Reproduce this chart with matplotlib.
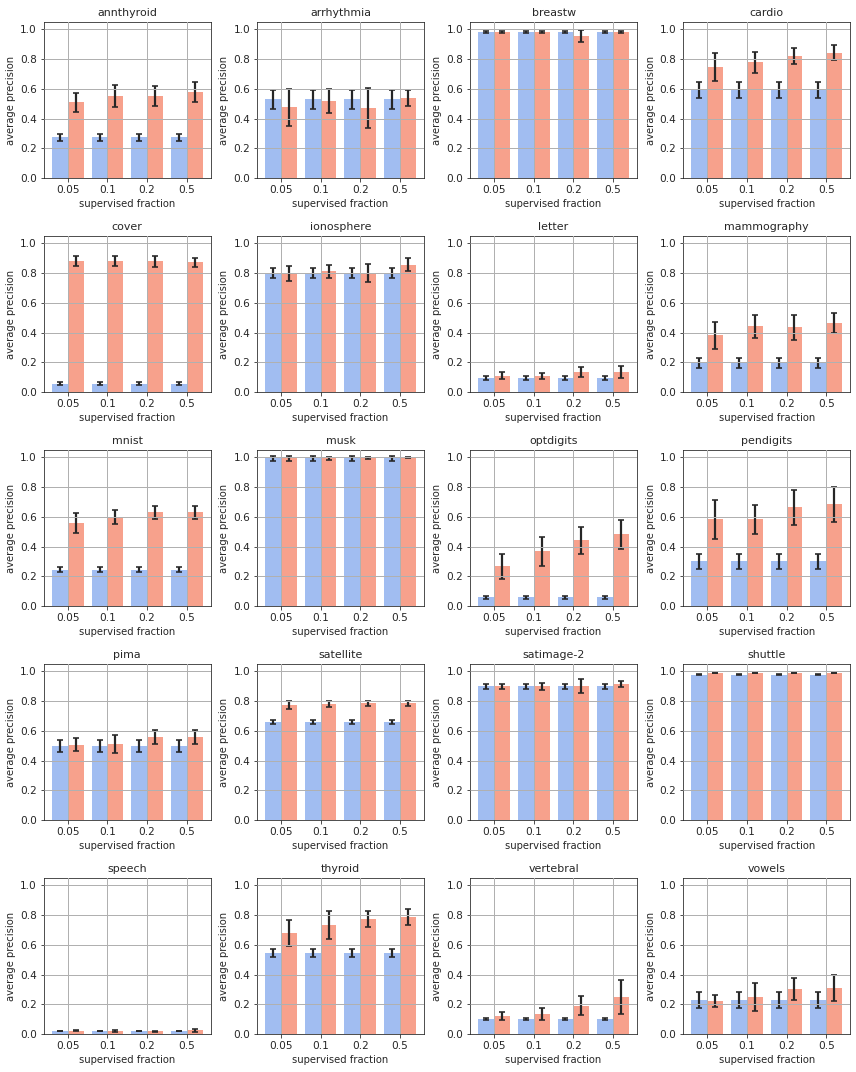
import numpy as np
import matplotlib
matplotlib.use('Agg')
import matplotlib.pyplot as plt

fractions = ['0.05', '0.1', '0.2', '0.5']
datasets = ['annthyroid', 'arrhythmia', 'breastw', 'cardio',
            'cover', 'ionosphere', 'letter', 'mammography',
            'mnist', 'musk', 'optdigits', 'pendigits',
            'pima', 'satellite', 'satimage-2', 'shuttle',
            'speech', 'thyroid', 'vertebral', 'vowels']

# unsupervised baseline (same for every fraction) and its error
base_mean = [0.273, 0.530, 0.980, 0.592,
             0.056, 0.802, 0.094, 0.195,
             0.244, 0.993, 0.059, 0.300,
             0.499, 0.660, 0.899, 0.977,
             0.021, 0.544, 0.100, 0.228]
base_err = [0.025, 0.065, 0.006, 0.054,
            0.008, 0.035, 0.014, 0.034,
            0.017, 0.019, 0.010, 0.050,
            0.042, 0.011, 0.018, 0.003,
            0.002, 0.027, 0.006, 0.053]

# semi-supervised, one value per fraction
semi_mean = [
    [0.508, 0.551, 0.551, 0.576],
    [0.476, 0.516, 0.470, 0.537],
    [0.980, 0.980, 0.957, 0.980],
    [0.748, 0.778, 0.822, 0.843],
    [0.879, 0.879, 0.879, 0.872],
    [0.800, 0.812, 0.800, 0.858],
    [0.110, 0.110, 0.133, 0.137],
    [0.381, 0.441, 0.435, 0.462],
    [0.561, 0.599, 0.630, 0.630],
    [0.993, 0.993, 0.995, 0.998],
    [0.266, 0.367, 0.441, 0.482],
    [0.583, 0.583, 0.664, 0.685],
    [0.506, 0.512, 0.559, 0.559],
    [0.774, 0.782, 0.787, 0.787],
    [0.900, 0.900, 0.900, 0.915],
    [0.990, 0.990, 0.990, 0.990],
    [0.021, 0.020, 0.018, 0.027],
    [0.680, 0.734, 0.774, 0.787],
    [0.121, 0.134, 0.190, 0.250],
    [0.222, 0.250, 0.302, 0.310],
]
semi_err = [
    [0.067, 0.076, 0.065, 0.067],
    [0.123, 0.080, 0.133, 0.055],
    [0.006, 0.006, 0.042, 0.006],
    [0.095, 0.072, 0.054, 0.050],
    [0.034, 0.034, 0.035, 0.030],
    [0.050, 0.045, 0.060, 0.042],
    [0.025, 0.020, 0.035, 0.040],
    [0.092, 0.075, 0.085, 0.067],
    [0.068, 0.050, 0.043, 0.044],
    [0.019, 0.010, 0.007, 0.002],
    [0.083, 0.098, 0.088, 0.098],
    [0.130, 0.100, 0.120, 0.118],
    [0.043, 0.060, 0.050, 0.046],
    [0.030, 0.018, 0.017, 0.017],
    [0.018, 0.024, 0.047, 0.018],
    [0.003, 0.003, 0.003, 0.003],
    [0.003, 0.007, 0.004, 0.010],
    [0.090, 0.094, 0.054, 0.052],
    [0.025, 0.040, 0.063, 0.117],
    [0.043, 0.093, 0.073, 0.088],
]

blue = '#a1bdf1'
salmon = '#f7a18c'
ecol = '#262626'
tcol = '#262626'

plt.rcParams['text.color'] = tcol
plt.rcParams['axes.labelcolor'] = tcol
plt.rcParams['xtick.color'] = tcol
plt.rcParams['ytick.color'] = tcol
plt.rcParams['axes.edgecolor'] = tcol

# figure drawn at 72 dpi, so one point is one pixel
fig, axes = plt.subplots(5, 4, figsize=(856 / 72, 1072 / 72), dpi=72)
fig.subplots_adjust(left=0.0514, right=0.9930, top=0.9795, bottom=0.0354,
                    wspace=0.28, hspace=0.372)

x = np.arange(len(fractions))
w = 0.4
ekw = dict(ecolor=ecol, elinewidth=2.2, capthick=1.6)
for i, ax in enumerate(axes.flat):
    b = [base_mean[i]] * len(fractions)
    be = [base_err[i]] * len(fractions)
    ax.bar(x - w / 2, b, w, color=blue, yerr=be, capsize=3.3, error_kw=ekw, zorder=1)
    ax.bar(x + w / 2, semi_mean[i], w, color=salmon, yerr=semi_err[i], capsize=3.3,
           error_kw=ekw, zorder=1)
    ax.grid(True, color='#b0b0b0', linewidth=1.0, zorder=3)
    ax.set_axisbelow(False)
    ax.set_xticks(x)
    ax.set_xticklabels(fractions)
    ax.set_xlim(-0.6, 3.6)
    ax.set_ylim(0, 1.05)
    ax.set_yticks([0, 0.2, 0.4, 0.6, 0.8, 1.0])
    ax.tick_params(labelsize=10.5)
    ax.set_title(datasets[i], fontsize=11)
    ax.set_xlabel('supervised fraction', fontsize=10)
    ax.set_ylabel('average precision', fontsize=10)

plt.savefig('out.png', dpi=72)
